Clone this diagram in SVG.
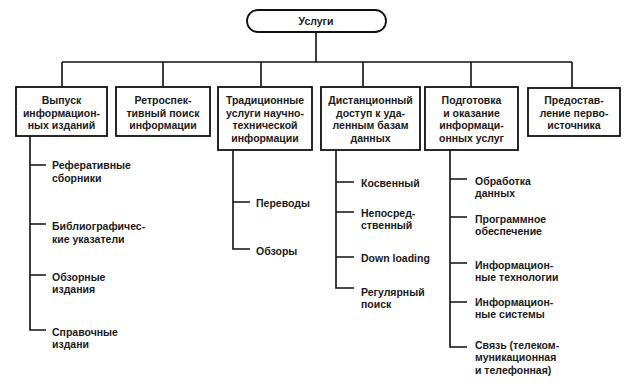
<svg xmlns="http://www.w3.org/2000/svg" width="638" height="391" viewBox="0 0 638 391">
<style>
text{font-family:"Liberation Sans",Arial,sans-serif;font-size:10.5px;font-weight:bold;fill:#1a1a1a}
.c{text-anchor:middle}
.box{fill:#fff;stroke:#111;stroke-width:1.8}
.ln{fill:none;stroke:#111;stroke-width:1.6}
</style>
<rect width="638" height="391" fill="#fff"/>
<g id="connectors" class="ln">
<path d="M316 32V62M62 62H572M62 62V87M163 62V87M261 62V87M363 62V87M471 62V87M572 62V88"/>
<path d="M30 136V330H46M30 165H46M30 224H46M30 275H46"/>
<path d="M233 150V249H250M233 202H250"/>
<path d="M336 150V288H354M336 182H354M336 212H354M336 257H354"/>
<path d="M450 150V347H467M450 179H467M450 217H467M450 263H467M450 302H467"/>
</g>
<g id="n0"><rect class="box" x="247" y="10" width="139" height="22" rx="11"/><text class="c" x="316" y="25">Услуги</text></g>
<g id="n1"><rect class="box" x="16" y="87" width="91" height="49"/><text class="c" x="61.5"><tspan x="61.5" y="104">Выпуск</tspan><tspan x="61.5" y="116.5">информацион-</tspan><tspan x="61.5" y="129">ных изданий</tspan></text></g>
<g id="n2"><rect class="box" x="116" y="87" width="94" height="49"/><text class="c"><tspan x="163" y="104">Ретроспек-</tspan><tspan x="163" y="116.5">тивный поиск</tspan><tspan x="163" y="129">информации</tspan></text></g>
<g id="n3"><rect class="box" x="218" y="87" width="94" height="63"/><text class="c"><tspan x="265" y="104">Традиционные</tspan><tspan x="265" y="116.5">услуги научно-</tspan><tspan x="265" y="129">технической</tspan><tspan x="265" y="141.5">информации</tspan></text></g>
<g id="n4"><rect class="box" x="321" y="87" width="99" height="63"/><text class="c"><tspan x="370.5" y="104">Дистанционный</tspan><tspan x="370.5" y="116.5">доступ к уда-</tspan><tspan x="370.5" y="129">ленным базам</tspan><tspan x="370.5" y="141.5">данных</tspan></text></g>
<g id="n5"><rect class="box" x="425" y="87" width="93" height="63"/><text class="c"><tspan x="471.5" y="104">Подготовка</tspan><tspan x="471.5" y="116.5">и оказание</tspan><tspan x="471.5" y="129">информаци-</tspan><tspan x="471.5" y="141.5">онных услуг</tspan></text></g>
<g id="n6"><rect class="box" x="528" y="88" width="92" height="48"/><text class="c"><tspan x="574" y="104">Предостав-</tspan><tspan x="574" y="116.5">ление перво-</tspan><tspan x="574" y="129">источника</tspan></text></g>
<g id="n1a"><text><tspan x="52" y="169">Реферативные</tspan><tspan x="52" y="181.5">сборники</tspan></text></g>
<g id="n1b"><text><tspan x="52" y="230">Библиографичес-</tspan><tspan x="52" y="242.5">кие указатели</tspan></text></g>
<g id="n1c"><text><tspan x="52" y="280.5">Обзорные</tspan><tspan x="52" y="293">издания</tspan></text></g>
<g id="n1d"><text><tspan x="52" y="335.5">Справочные</tspan><tspan x="52" y="348">издани</tspan></text></g>
<g id="n3a"><text x="256" y="206.5">Переводы</text></g>
<g id="n3b"><text x="256" y="254.5">Обзоры</text></g>
<g id="n4a"><text x="361" y="186.5">Косвенный</text></g>
<g id="n4b"><text><tspan x="361" y="216.5">Непосред-</tspan><tspan x="361" y="229">ственный</tspan></text></g>
<g id="n4c"><text x="361" y="261.5">Down loading</text></g>
<g id="n4d"><text><tspan x="361" y="295.5">Регулярный</tspan><tspan x="361" y="308">поиск</tspan></text></g>
<g id="n5a"><text><tspan x="475" y="184.5">Обработка</tspan><tspan x="475" y="197">данных</tspan></text></g>
<g id="n5b"><text><tspan x="475" y="222.5">Программное</tspan><tspan x="475" y="235">обеспечение</tspan></text></g>
<g id="n5c"><text><tspan x="475" y="268.5">Информацион-</tspan><tspan x="475" y="281">ные технологии</tspan></text></g>
<g id="n5d"><text><tspan x="475" y="305.5">Информацион-</tspan><tspan x="475" y="318">ные системы</tspan></text></g>
<g id="n5e"><text><tspan x="475" y="348.5">Связь (телеком-</tspan><tspan x="475" y="361">муникационная</tspan><tspan x="475" y="373.5">и телефонная)</tspan></text></g>
</svg>
